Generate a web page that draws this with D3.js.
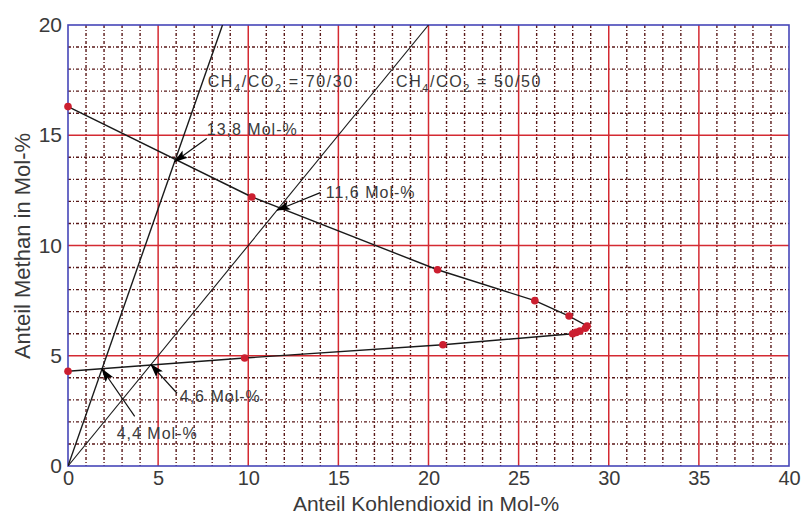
<!DOCTYPE html>
<html><head><meta charset="utf-8">
<script src="https://cdn.jsdelivr.net/npm/d3@7"></script>
<style>
html,body{margin:0;padding:0;background:#fff;}
svg{display:block;font-family:Arial,"Liberation Sans",sans-serif;}
</style></head>
<body><svg id="c" width="803" height="515"></svg>
<script>
// ---- data ----
const xTicks = [0,5,10,15,20,25,30,35,40];
const yTicks = [0,5,10,15,20];
const co2Values = [0,10.2,20.5,25.9,27.8,28.8,28.7,28.4,28.2,28.0,20.8,9.8,0];
const ch4Values = [16.3,12.2,8.9,7.5,6.8,6.35,6.25,6.12,6.06,6.0,5.5,4.9,4.3];
const ratioCH4 = [70,50];
const ratioCO2 = [30,50];
const ratioLabels = ["70/30","50/50"];
const ratioLabelPos = [[7.75,17.2],[18.2,17.2]];
const annValues = [13.8,11.6,4.6,4.4];
const annRatio = [0,1,1,0];
const annLabels = ["13,8 Mol-%","11,6 Mol-%","4,6 Mol-%","4,4 Mol-%"];
const annStart = [[7.7,14.85],[14.0,12.4],[6.05,3.3],[3.7,2.25]];
const annText = [[7.7,15.0],[14.3,12.15],[6.2,2.9],[2.7,1.22]];

// ---- layout ----
const svg = d3.select("#c");
const L=68,R=789,T=25,B=466;
const x = d3.scaleLinear().domain([0,40]).range([L,R]);
const y = d3.scaleLinear().domain([0,20]).range([B,T]);
const txt="#3a3a3a";

// minor grid
const g = svg.append("g");
d3.range(1,40).filter(v=>v%5).forEach(v=>{
  g.append("line").attr("x1",x(v)).attr("x2",x(v)).attr("y1",T).attr("y2",B)
   .attr("stroke","#5a1818").attr("stroke-width",1.4).attr("stroke-dasharray","3,2,1,2");
});
d3.range(1,20).filter(v=>v%5).forEach(v=>{
  g.append("line").attr("y1",y(v)).attr("y2",y(v)).attr("x1",L).attr("x2",R)
   .attr("stroke","#5a1818").attr("stroke-width",1.4).attr("stroke-dasharray","3,2,1,2");
});
// major grid
xTicks.filter(v=>v>0&&v<40).forEach(v=>{
  g.append("line").attr("x1",x(v)).attr("x2",x(v)).attr("y1",T).attr("y2",B)
   .attr("stroke","#d42a32").attr("stroke-width",1.5);
});
yTicks.filter(v=>v>0&&v<20).forEach(v=>{
  g.append("line").attr("y1",y(v)).attr("y2",y(v)).attr("x1",L).attr("x2",R)
   .attr("stroke","#d42a32").attr("stroke-width",1.5);
});
// border
svg.append("rect").attr("x",L).attr("y",T).attr("width",R-L).attr("height",B-T)
  .attr("fill","none").attr("stroke","#4646b8").attr("stroke-width",1.6);

// axes labels
const ax = svg.append("g").attr("transform",`translate(0,${B})`)
  .call(d3.axisBottom(x).tickValues(xTicks).tickSize(0).tickPadding(5).tickFormat(d3.format("d")));
ax.select(".domain").remove();
ax.selectAll("text").attr("font-size",20).attr("fill",txt).attr("font-family","Arial, Liberation Sans, sans-serif");
const ay = svg.append("g").attr("transform",`translate(${L},0)`)
  .call(d3.axisLeft(y).tickValues(yTicks).tickSize(0).tickPadding(6).tickFormat(d3.format("d")));
ay.select(".domain").remove();
ay.selectAll("text").attr("font-size",21).attr("fill",txt).attr("font-family","Arial, Liberation Sans, sans-serif");

svg.append("text").attr("x",426).attr("y",511).attr("text-anchor","middle")
  .attr("font-size",21).attr("fill",txt).text("Anteil Kohlendioxid in Mol-%");
svg.append("text").attr("transform","translate(30,246) rotate(-90)").attr("text-anchor","middle")
  .attr("font-size",22).attr("fill",txt).text("Anteil Methan in Mol-%");

// clip
svg.append("clipPath").attr("id","clip").append("rect")
  .attr("x",L).attr("y",T).attr("width",R-L).attr("height",B-T);

// ratio lines
ratioCH4.forEach((c,i)=>{
  const xe = 20*ratioCO2[i]/c;
  svg.append("line").attr("clip-path","url(#clip)")
    .attr("x1",x(0)).attr("y1",y(0)).attr("x2",x(xe)).attr("y2",y(20))
    .attr("stroke","#1a1a1a").attr("stroke-width",i===0?1.4:1.1);
});

// data line
const pts = co2Values.map((v,i)=>[v,ch4Values[i]]);
svg.append("path").datum(pts)
  .attr("d",d3.line().x(d=>x(d[0])).y(d=>y(d[1])))
  .attr("fill","none").attr("stroke","#1a1a1a").attr("stroke-width",1.4);
svg.selectAll("circle.pt").data(pts).enter().append("circle")
  .attr("cx",d=>x(d[0])).attr("cy",d=>y(d[1])).attr("r",3.8).attr("fill","#cc1f30");

// arrow marker
svg.append("defs").append("marker").attr("id","ah")
  .attr("markerWidth",14).attr("markerHeight",9).attr("refX",13).attr("refY",4.5)
  .attr("orient","auto").attr("markerUnits","userSpaceOnUse")
  .append("path").attr("d","M0,0 L14,4.5 L0,9 L3,4.5 z").attr("fill","#000");

annValues.forEach((v,i)=>{
  const r = annRatio[i];
  const tx = v*ratioCO2[r]/ratioCH4[r];
  svg.append("line").attr("x1",x(annStart[i][0])).attr("y1",y(annStart[i][1]))
    .attr("x2",x(tx)).attr("y2",y(v))
    .attr("stroke","#111").attr("stroke-width",1.2).attr("marker-end","url(#ah)");
  svg.append("text").attr("x",x(annText[i][0])).attr("y",y(annText[i][1]))
    .attr("font-size",16).attr("letter-spacing","1px").attr("fill",txt).text(annLabels[i]);
});

// ratio labels
ratioLabels.forEach((lab,i)=>{
  const t = svg.append("text").attr("x",x(ratioLabelPos[i][0])).attr("y",y(ratioLabelPos[i][1]))
    .attr("font-size",16).attr("letter-spacing","1.6px").attr("fill",txt);
  t.append("tspan").text("CH");
  t.append("tspan").attr("dy",5).attr("font-size",11).text("4");
  t.append("tspan").attr("dy",-5).text("/CO");
  t.append("tspan").attr("dy",5).attr("font-size",11).text("2");
  t.append("tspan").attr("dy",-5).text(" = "+lab);
});
</script>
</body></html>
